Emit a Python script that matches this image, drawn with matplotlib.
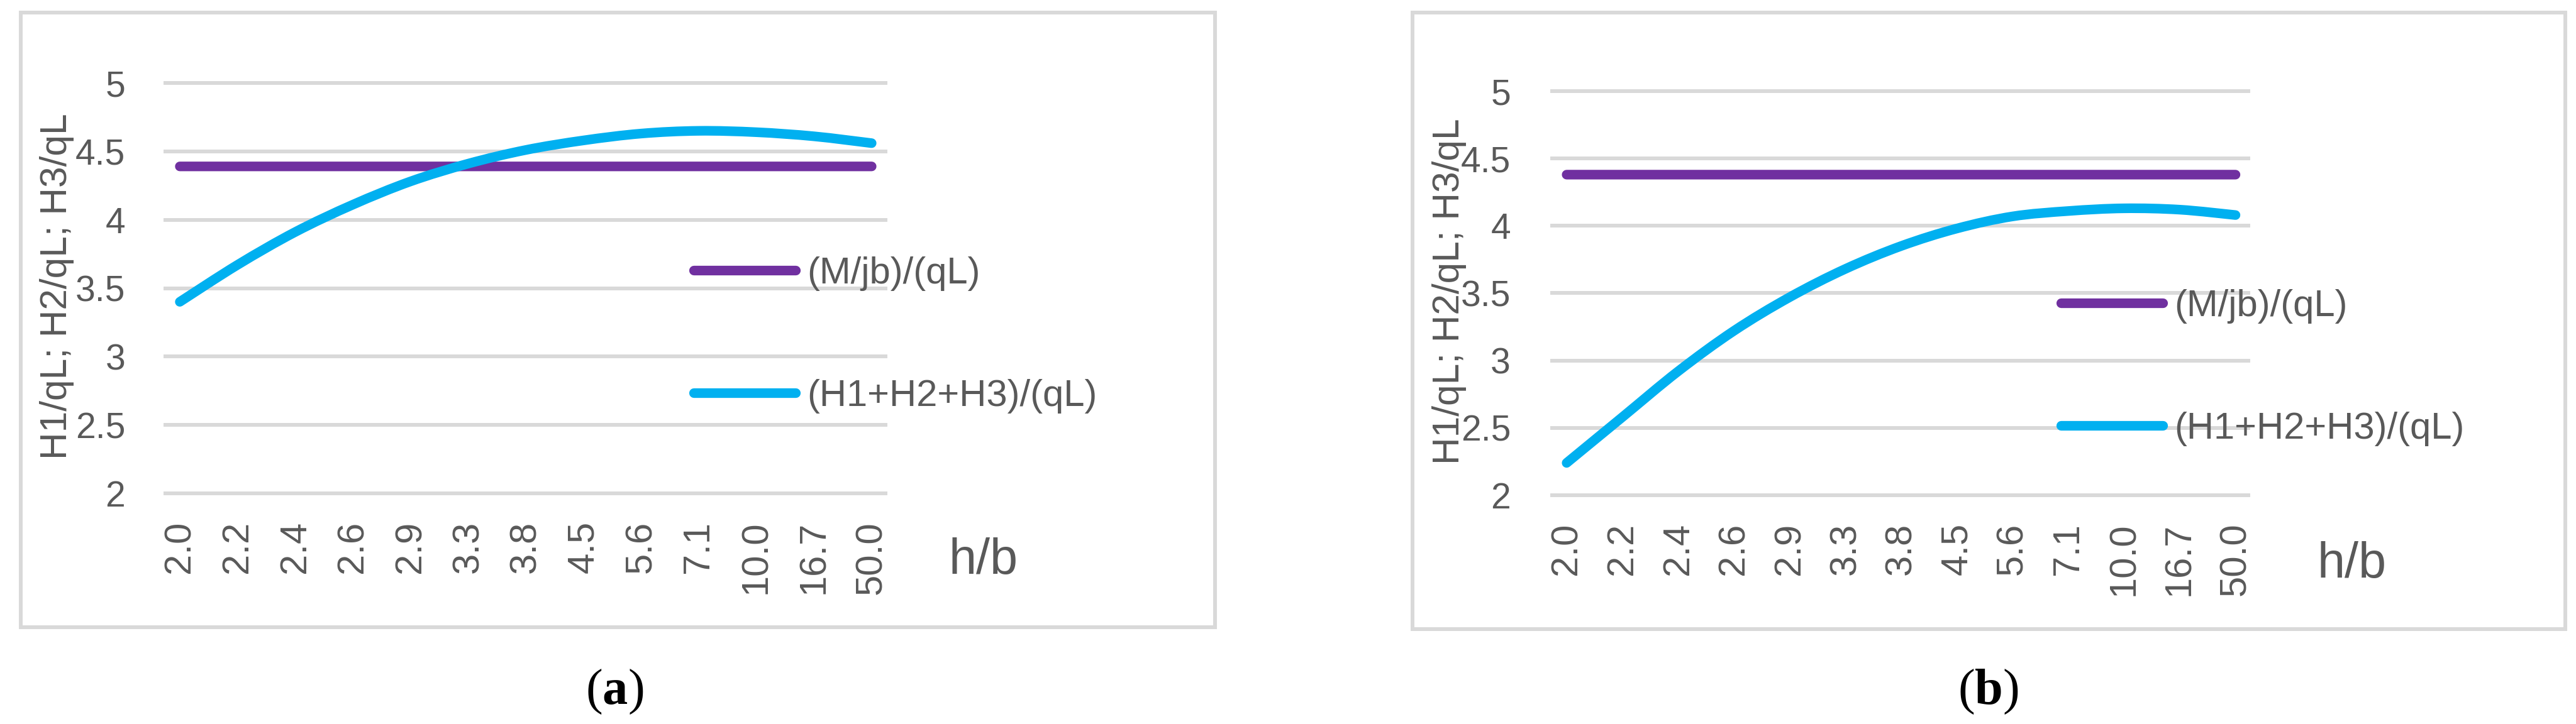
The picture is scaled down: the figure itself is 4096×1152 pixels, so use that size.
import numpy as np
import matplotlib
matplotlib.use("Agg")
import matplotlib.pyplot as plt
import matplotlib.patches as mpatches
from matplotlib.lines import Line2D
from matplotlib.path import Path

# data
hb_labels = ["2.0", "2.2", "2.4", "2.6", "2.9", "3.3", "3.8", "4.5", "5.6", "7.1", "10.0", "16.7", "50.0"]
mjb_a = [4.39] * 13
h_sum_a = [3.40, 3.67, 3.91, 4.11, 4.28, 4.41, 4.51, 4.58, 4.63, 4.65, 4.64, 4.61, 4.56]
mjb_b = [4.38] * 13
h_sum_b = [2.24, 2.58, 2.92, 3.22, 3.47, 3.68, 3.85, 3.98, 4.07, 4.11, 4.13, 4.12, 4.08]
yticks = [2, 2.5, 3, 3.5, 4, 4.5, 5]
ytick_labels = ["2", "2.5", "3", "3.5", "4", "4.5", "5"]
names = ["(M/jb)/(qL)", "(H1+H2+H3)/(qL)"]

purple = "#7030A0"
blue = "#00B0F0"
grey_txt = "#595959"
grid_c = "#D9D9D9"
sans = "Liberation Sans"

W, H = 4096, 1152
fig = plt.figure(figsize=(W / 100, H / 100), dpi=100)
matplotlib.rcParams["mathtext.fontset"] = "custom"
matplotlib.rcParams["mathtext.bf"] = "Liberation Serif:bold"
matplotlib.rcParams["mathtext.rm"] = "Liberation Serif"


def px_axes(x0, y0, x1, y1):
    # pixel box (top-left origin) -> figure fraction
    return [x0 / W, 1 - y1 / H, (x1 - x0) / W, (y1 - y0) / H]


def smooth_path(xs, ys):
    # Excel style smoothed line: Catmull-Rom segments as cubic beziers
    pts = np.column_stack([xs, ys]).astype(float)
    ext = np.vstack([pts[0], pts, pts[-1]])
    verts = [pts[0]]
    codes = [Path.MOVETO]
    for i in range(len(pts) - 1):
        p0, p1, p2, p3 = ext[i], ext[i + 1], ext[i + 2], ext[i + 3]
        verts += [p1 + (p2 - p0) / 6, p2 - (p3 - p1) / 6, p2]
        codes += [Path.CURVE4] * 3
    return Path(verts, codes)


def panel(box, frame, mjb, hsum, xlim, ypad, xpad, leg_xy, ylab_xy, hb_xy, cap_xy, cap):
    fx0, fy0, fx1, fy1 = frame
    fig.patches.append(mpatches.Rectangle((fx0 / W, 1 - fy1 / H), (fx1 - fx0) / W, (fy1 - fy0) / H,
                                          transform=fig.transFigure, fill=False,
                                          edgecolor=grid_c, lw=4.3))
    ax = fig.add_axes(px_axes(*box))
    x = np.arange(len(hb_labels))
    for ys, c in [(mjb, purple), (hsum, blue)]:
        ax.add_patch(mpatches.PathPatch(smooth_path(x, ys), fill=False, edgecolor=c,
                                        lw=11, capstyle="round", joinstyle="round"))
    ax.set_xlim(*xlim)
    ax.set_ylim(2, 5)
    ax.set_yticks(yticks)
    ax.set_yticklabels(ytick_labels, fontfamily=sans, fontsize=41, color=grey_txt)
    ax.set_xticks(x)
    ax.set_xticklabels(hb_labels, rotation=90, fontfamily=sans, fontsize=43, color=grey_txt)
    ax.tick_params(axis="y", length=0, pad=ypad)
    ax.tick_params(axis="x", length=0, pad=xpad)
    for s in ax.spines.values():
        s.set_visible(False)
    ax.grid(axis="y", color=grid_c, lw=4.3)
    ax.set_axisbelow(True)
    for gl in ax.get_ygridlines():
        gl.set_clip_on(False)
    handles = [Line2D([], [], color=c, lw=11, solid_capstyle="round", label=n)
               for c, n in zip([purple, blue], names)]
    leg = ax.legend(handles=handles, loc="center left", bbox_to_anchor=leg_xy,
                    bbox_transform=fig.transFigure, frameon=False, borderpad=0,
                    borderaxespad=0, prop={"family": sans, "size": 43},
                    handlelength=2.72, handletextpad=0.3, labelspacing=2.35)
    for t in leg.get_texts():
        t.set_color(grey_txt)
    fig.text(ylab_xy[0] / W, 1 - ylab_xy[1] / H, "H1/qL; H2/qL; H3/qL", rotation=90,
             ha="center", va="center", fontsize=43.5, color=grey_txt, fontfamily=sans)
    fig.text(hb_xy[0] / W, 1 - hb_xy[1] / H, "h/b", ha="center", va="baseline",
             fontsize=57, color=grey_txt, fontfamily=sans)
    fig.text(cap_xy[0] / W, 1 - cap_xy[1] / H, "(" + r"$\mathbf{" + cap + "}$" + ")",
             ha="center", va="baseline", fontsize=58, color="black",
             fontfamily="Liberation Serif")
    return ax


panel((263, 132, 1408, 785), (33, 20, 1932, 998), mjb_a, h_sum_a, (-0.25, 12.24), 46, 31.5,
      (1103 / W, 1 - 533 / H), (91, 456), (1564, 913), (977, 1120), "a")
panel((2468, 145, 3575, 788), (2246, 20, 4079, 1001), mjb_b, h_sum_b, (-0.26, 12.23), 47.5, 31.5,
      (3277 / W, 1 - 585 / H), (2304, 464), (3740, 919), (3161, 1120), "b")

fig.savefig("out.png", dpi=100, facecolor="white")
